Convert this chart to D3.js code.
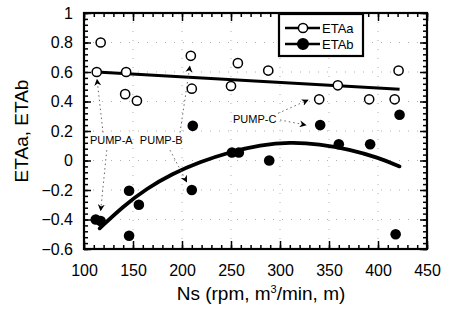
<!DOCTYPE html>
<html><head><meta charset="utf-8">
<script src="https://cdn.jsdelivr.net/npm/d3@7"></script>
<style>body{margin:0;background:#fff}svg{display:block}</style>
</head><body><svg id="c" width="451" height="310"></svg>
<script>
// ---- data ----
const etaA_x = [117,113,143,142,154,209,210,250,257,288,340,359,391,417,421];
const etaA_y = [0.80,0.60,0.60,0.45,0.405,0.71,0.487,0.505,0.66,0.61,0.415,0.51,0.415,0.415,0.61];
const etaB_x = [112,117,146,146,156,210,211,251,258,289,341,360,392,418,422];
const etaB_y = [-0.40,-0.41,-0.205,-0.51,-0.30,-0.20,0.235,0.054,0.054,0.0,0.24,0.11,0.11,-0.50,0.31];
const fitA_x = [113,422];
const fitA_y = [0.60,0.483];
const fitB_x = [116,140,164,190,218,249,280,310,340,371,400,422];
const fitB_y = [-0.46,-0.31,-0.19,-0.09,-0.01,0.058,0.105,0.125,0.112,0.075,0.02,-0.04];
const xTicks = [100,150,200,250,300,350,400,450];
const yTicks = [-0.6,-0.4,-0.2,0,0.2,0.4,0.6,0.8,1];
const seriesNames = ["ETAa","ETAb"];
const pumpLabels = ["PUMP-A","PUMP-B","PUMP-C"];
const pumpLabelX = [106,157,252];
const pumpLabelY = [0.115,0.115,0.254];
// arrows: [fromX, fromY, toX, toY] in data units
const pumpArrows = [
  [119.4,0.19,113.3,0.55],
  [123.2,0.07,117,-0.34],
  [198,0.19,208,0.64],
  [187.8,0.07,204.8,-0.145],
  [300,0.275,326.5,0.24],
  [298,0.32,328.6,0.41]
];

const font = "'Liberation Sans', Arial, sans-serif";
const svg = d3.select("#c");
const x = d3.scaleLinear().domain([100,450]).range([84,427]);
const y = d3.scaleLinear().domain([-0.6,1]).range([249,13]);

// grid (sparse dotted)
const grid = svg.append("g").attr("stroke","#b0b0b0").attr("stroke-width",1).attr("stroke-dasharray","1,8");
grid.selectAll("line.v").data(xTicks.slice(1,-1)).join("line")
  .attr("x1",d=>x(d)).attr("x2",d=>x(d)).attr("y1",y(1)).attr("y2",y(-0.6));
grid.selectAll("line.h").data(yTicks.slice(1,-1)).join("line")
  .attr("y1",d=>y(d)).attr("y2",d=>y(d)).attr("x1",x(100)).attr("x2",x(450));

// axes
function styleAx(g){ g.select(".domain").remove(); g.selectAll("line").attr("stroke","#000").attr("stroke-width",1.5); g.selectAll("text").attr("font-family",font).attr("font-size",16).attr("fill","#000"); }
const minorX = d3.range(100,451,10);
const minorY = d3.range(-0.6,1.001,0.04);
// bottom
svg.append("g").attr("transform",`translate(0,${y(-0.6)})`).call(d3.axisBottom(x).tickValues(xTicks).tickSizeInner(-8).tickSizeOuter(0).tickPadding(16).tickFormat(d3.format("d"))).call(styleAx);
svg.append("g").attr("transform",`translate(0,${y(-0.6)})`).call(d3.axisBottom(x).tickValues(minorX).tickSizeInner(-4).tickSizeOuter(0).tickFormat("")).call(styleAx);
// top
svg.append("g").attr("transform",`translate(0,${y(1)})`).call(d3.axisTop(x).tickValues(xTicks).tickSizeInner(-8).tickSizeOuter(0).tickFormat("")).call(styleAx);
svg.append("g").attr("transform",`translate(0,${y(1)})`).call(d3.axisTop(x).tickValues(minorX).tickSizeInner(-4).tickSizeOuter(0).tickFormat("")).call(styleAx);
// left
svg.append("g").attr("transform",`translate(${x(100)},0)`).call(d3.axisLeft(y).tickValues(yTicks).tickSizeInner(-7).tickSizeOuter(0).tickPadding(11).tickFormat(d=>d===0?"0":d3.format("")(+d.toFixed(1)))).call(styleAx);
svg.append("g").attr("transform",`translate(${x(100)},0)`).call(d3.axisLeft(y).tickValues(minorY).tickSizeInner(-4).tickSizeOuter(0).tickFormat("")).call(styleAx);
// right
svg.append("g").attr("transform",`translate(${x(450)},0)`).call(d3.axisRight(y).tickValues(yTicks).tickSizeInner(-7).tickSizeOuter(0).tickFormat("")).call(styleAx);
svg.append("g").attr("transform",`translate(${x(450)},0)`).call(d3.axisRight(y).tickValues(minorY).tickSizeInner(-4).tickSizeOuter(0).tickFormat("")).call(styleAx);

// frame
svg.append("rect").attr("x",x(100)).attr("y",y(1)).attr("width",x(450)-x(100)).attr("height",y(-0.6)-y(1))
  .attr("fill","none").attr("stroke","#000").attr("stroke-width",2.2);

// axis titles
svg.append("text").attr("x",261).attr("y",300).attr("text-anchor","middle").attr("font-family",font).attr("font-size",19)
  .call(t=>{t.append("tspan").text("Ns (rpm, m");t.append("tspan").attr("dy",-7).attr("font-size",11).text("3");t.append("tspan").attr("dy",7).text("/min, m)");});
svg.append("text").attr("transform","translate(28,131) rotate(-90)").attr("text-anchor","middle").attr("font-family",font).attr("font-size",19).text("ETAa, ETAb");

// fit lines
const line = d3.line().x(d=>x(d[0])).y(d=>y(d[1]));
svg.append("path").datum(d3.zip(fitA_x,fitA_y)).attr("d",line).attr("fill","none").attr("stroke","#000").attr("stroke-width",3);
svg.append("path").datum(d3.zip(fitB_x,fitB_y)).attr("d",line.curve(d3.curveBasis)).attr("fill","none").attr("stroke","#000").attr("stroke-width",3.8).attr("stroke-linecap","round");

// points
svg.append("g").selectAll("circle").data(d3.zip(etaA_x,etaA_y)).join("circle")
  .attr("cx",d=>x(d[0])).attr("cy",d=>y(d[1])).attr("r",4.6).attr("fill","#fff").attr("stroke","#000").attr("stroke-width",1.5);
svg.append("g").selectAll("circle").data(d3.zip(etaB_x,etaB_y)).join("circle")
  .attr("cx",d=>x(d[0])).attr("cy",d=>y(d[1])).attr("r",5.3).attr("fill","#000");

// annotations
const defs = svg.append("defs");
defs.append("marker").attr("id","ah").attr("viewBox","0 0 10 10").attr("refX",9).attr("refY",5)
  .attr("markerWidth",7).attr("markerHeight",7).attr("markerUnits","userSpaceOnUse").attr("orient","auto")
  .append("path").attr("d","M0,0 L10,5 L0,10 L3,5 Z").attr("fill","#000");
svg.append("g").selectAll("line").data(pumpArrows).join("line")
  .attr("x1",d=>x(d[0])).attr("y1",d=>y(d[1])).attr("x2",d=>x(d[2])).attr("y2",d=>y(d[3]))
  .attr("stroke","#555").attr("stroke-width",0.9).attr("stroke-dasharray","1.5,3").attr("marker-end","url(#ah)");
svg.append("g").selectAll("text").data(pumpLabels).join("text")
  .attr("x",(d,i)=>x(pumpLabelX[i])).attr("y",(d,i)=>y(pumpLabelY[i]))
  .attr("font-family",font).attr("font-size",11).attr("fill","#000").text(d=>d);

// legend
const lg = svg.append("g");
lg.append("rect").attr("x",279).attr("y",14).attr("width",84).attr("height",42).attr("fill","#fff").attr("stroke","#000").attr("stroke-width",2.2);
const lgY = [28,44];
seriesNames.forEach((n,i)=>{
  lg.append("line").attr("x1",285).attr("x2",320).attr("y1",lgY[i]).attr("y2",lgY[i]).attr("stroke","#000").attr("stroke-width",2.5);
  lg.append("circle").attr("cx",303).attr("cy",lgY[i]).attr("r",i?5.3:4.6).attr("fill",i?"#000":"#fff").attr("stroke","#000").attr("stroke-width",1.5);
  lg.append("text").attr("x",322).attr("y",lgY[i]+4.5).attr("font-family",font).attr("font-size",13).text(n);
});
</script>
</body></html>
